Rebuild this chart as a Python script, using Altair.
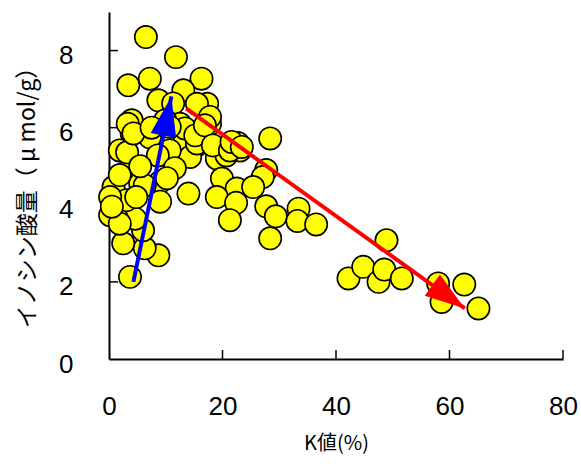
import math
import altair as alt
import pandas as pd

# ---- data ----
k_values = [
    6.5, 11.8, 3.4, 7.2, 16.3, 13.1, 8.7, 17.3, 11.3, 15.5,
    4.0, 4.0, 3.3, 15.5, 11.9, 9.5, 14.3, 3.7, 9.0, 14.0,
    1.9, 0.8, 5.5, 19.0, 12.5, 17.8, 10.7, 3.7, 8.7, 6.3,
    2.5, 6.0, 4.6, 1.4, 0.2, 1.9, 3.1, 9.0, 0.2, 0.5,
    15.5, 17.8, 20.7, 23.1, 22.7, 3.2, 7.2, 8.6, 6.3, 5.5,
    1.9, 9.9, 13.4, 11.6, 15.2, 16.9, 18.3, 21.3, 10.2, 21.6,
    23.4, 10.7, 4.3, 4.8, 7.5,
    28.4, 27.7, 27.1, 19.9, 22.5, 25.4, 19.0, 22.4, 21.3, 27.7,
    29.4, 33.4, 33.2, 36.5, 28.4,
    48.9, 42.2, 44.8, 47.5, 48.5, 51.6, 58.0, 58.6, 62.6, 65.1,
]
inosinic_values = [
    8.35, 7.83, 7.10, 7.27, 7.27, 6.97, 6.71, 6.62, 6.63, 6.62,
    6.19, 5.85, 6.10, 5.54, 5.59, 5.67, 5.24, 4.94, 4.59, 4.29,
    5.41, 4.46, 4.55, 5.20, 6.10, 6.10, 5.41, 2.13, 2.69, 2.87,
    3.00, 3.34, 3.64, 3.64, 3.73, 3.51, 4.12, 4.08, 4.20, 3.95,
    5.59, 6.28, 5.28, 5.41, 5.60, 5.36, 5.75, 5.28, 4.50, 5.00,
    4.77, 6.19, 5.98, 4.95, 5.80, 6.06, 5.54, 5.41, 4.69, 5.63,
    5.50, 6.02, 5.85, 4.20, 6.00,
    5.72, 4.90, 4.72, 4.68, 4.42, 4.46, 4.20, 4.05, 3.60, 3.96,
    3.70, 3.90, 3.58, 3.49, 3.13,
    3.08, 2.09, 2.39, 2.00, 2.32, 2.09, 1.96, 1.48, 1.93, 1.31,
]

arrow_names = ["increase", "decrease"]
arrow_x_start = [4.3, 13.6]
arrow_y_start = [2.0, 6.5]
arrow_x_end = [11.0, 62.7]
arrow_y_end = [6.81, 1.31]
arrow_colors = ["#0000FF", "#FF0000"]

x_ticks = [0, 20, 40, 60, 80]
y_ticks = [0, 2, 4, 6, 8]

x_title = "K値(%)"
y_title = "イノシン酸量（ μ mol/g）"

# ---- layout ----
W, H = 454, 347
X_DOM = [0, 80]
Y_DOM = [0, 9]

points = pd.DataFrame({"k": k_values, "ino": inosinic_values})

# screen angle of each arrow (clockwise from up), from the scale ratio
sx = W / (X_DOM[1] - X_DOM[0])
sy = H / (Y_DOM[1] - Y_DOM[0])
angles = []
for x0, y0, x1, y1 in zip(arrow_x_start, arrow_y_start, arrow_x_end, arrow_y_end):
    dx = (x1 - x0) * sx
    dy = -(y1 - y0) * sy
    angles.append(math.degrees(math.atan2(dx, -dy)) % 360)

arrow_lines = pd.DataFrame({
    "name": arrow_names,
    "k": arrow_x_start, "ino": arrow_y_start,
    "k2": arrow_x_end, "ino2": arrow_y_end,
    "color": arrow_colors,
})
arrow_heads = pd.DataFrame({
    "name": arrow_names,
    "k": arrow_x_end, "ino": arrow_y_end,
    "color": arrow_colors, "angle": angles,
})

xscale = alt.Scale(domain=X_DOM, nice=False, zero=False)
yscale = alt.Scale(domain=Y_DOM, nice=False, zero=False)

num_font = "Liberation Sans, Arial, sans-serif"
cjk_font = "Noto Sans CJK JP"

x_axis = alt.Axis(
    values=x_ticks, title=x_title, ticks=False, labelPadding=34,
    labelFont=num_font, labelFontSize=26, labelColor="black",
    titleFont=cjk_font, titleFontSize=20, titleFontWeight="normal",
    titleColor="black", titleY=84, titleBaseline="middle",
    domainColor="black", domainWidth=2, grid=False, labelFlush=False)
y_axis = alt.Axis(
    values=y_ticks, title=y_title, ticks=False, labelPadding=36,
    labelFont=num_font, labelFontSize=26, labelColor="black", labelOffset=5,
    titleFont=cjk_font, titleFontSize=23, titleFontWeight="normal",
    titleColor="black", titleX=-82, titleY=H / 2 + 6,
    titleBaseline="middle", titleAlign="center",
    domainColor="black", domainWidth=2, grid=False, labelFlush=False)

X = alt.X("k:Q", scale=xscale, axis=x_axis, title=x_title)
Y = alt.Y("ino:Q", scale=yscale, axis=y_axis, title=y_title)

scatter = alt.Chart(points).mark_circle(
    size=500, color="#FFFF00", opacity=1, stroke="black", strokeWidth=1.6
).encode(x=X, y=Y)

# inward tick marks
xt = alt.Chart(pd.DataFrame({"k": x_ticks[1:]})).mark_rule(
    color="black", strokeWidth=1.5
).encode(x=X, y=alt.value(H), y2=alt.value(H - 9))
yt = alt.Chart(pd.DataFrame({"ino": y_ticks[1:]})).mark_rule(
    color="black", strokeWidth=1.5
).encode(y=Y, x=alt.value(0), x2=alt.value(9))

lines = alt.Chart(arrow_lines).mark_rule(strokeWidth=4).encode(
    x=X, y=Y, x2="k2:Q", y2="ino2:Q",
    color=alt.Color("color:N", scale=None),
)

head_path = "M0,0L1.3,4L-1.3,4Z"
heads = alt.Chart(arrow_heads).mark_point(
    shape=head_path, size=400, filled=True, opacity=1, strokeWidth=0
).encode(
    x=X, y=Y,
    color=alt.Color("color:N", scale=None),
    angle=alt.Angle("angle:Q", scale=None),
)

chart = alt.layer(xt, yt, scatter, lines, heads).properties(
    width=W, height=H,
    autosize=alt.AutoSizeParams(type="none"),
    padding={"left": 109, "top": 12, "right": 18, "bottom": 108},
).configure_view(stroke=None)

chart.save("out.html", embed_options={"renderer": "svg", "actions": False})
